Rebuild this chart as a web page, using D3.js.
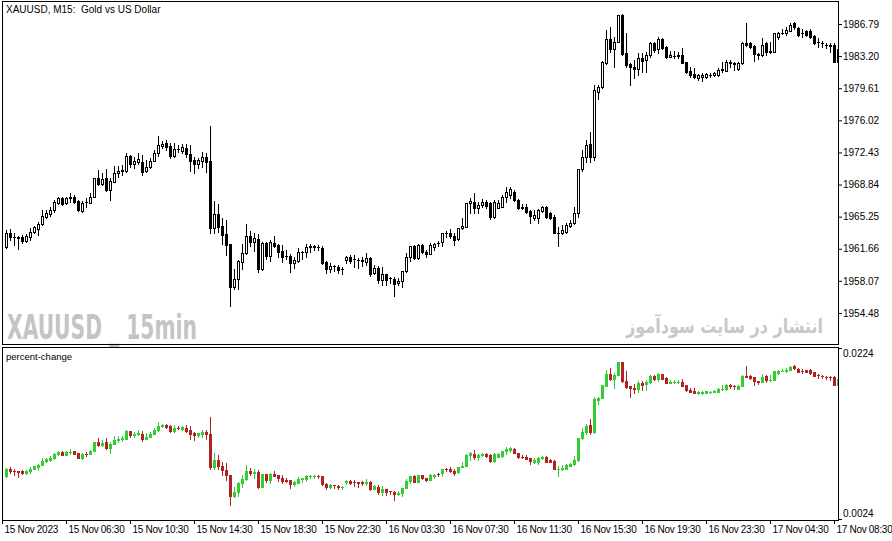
<!DOCTYPE html>
<html>
<head>
<meta charset="utf-8">
<script src="https://cdn.jsdelivr.net/npm/d3@7"></script>
<style>
  body { margin: 0; background: #fff; }
  svg text { font-family: "Liberation Sans", Arial, sans-serif; }
</style>
</head>
<body>
<svg id="chart" width="892" height="541"></svg>
<script>
// XAUUSD M15 candles, 15-17 Nov 2023 (one value per bar)
const opens = [
  1961.89,1963.46,1963.01,1962.92,1962.98,1962.56,1962.98,1963.57,1963.90,1964.43,
  1965.24,1965.54,1965.99,1966.81,1967.30,1966.74,1967.37,1967.48,1967.00,1965.91,
  1966.92,1966.81,1967.48,1969.54,1968.90,1969.54,1968.23,1969.16,1970.09,1970.39,
  1970.39,1972.03,1971.13,1971.36,1971.39,1970.39,1970.77,1971.50,1972.33,1973.15,
  1973.45,1973.18,1972.03,1972.78,1972.62,1972.89,1972.25,1971.58,1971.10,1971.50,
  1971.92,1971.47,1963.95,1965.54,1964.20,1963.31,1962.19,1957.35,1958.24,1960.21,
  1961.15,1963.09,1962.45,1962.75,1959.40,1962.27,1960.88,1962.27,1962.08,1961.41,
  1960.85,1960.85,1960.10,1960.29,1961.26,1961.26,1961.89,1961.89,1961.89,1961.78,
  1960.14,1959.36,1959.73,1959.65,1959.36,1960.40,1960.77,1960.48,1960.40,1960.40,
  1960.21,1960.59,1958.91,1959.47,1958.17,1958.84,1958.36,1958.24,1957.80,1958.05,
  1959.17,1960.70,1961.97,1960.59,1962.08,1961.33,1961.07,1961.82,1962.27,1962.45,
  1963.46,1963.46,1963.09,1962.72,1963.95,1964.13,1966.74,1966.85,1966.18,1966.55,
  1966.92,1966.74,1965.24,1966.25,1966.36,1967.48,1967.70,1968.04,1967.11,1966.29,
  1966.29,1965.91,1965.06,1965.06,1965.91,1966.29,1965.62,1965.24,1963.42,1963.39,
  1963.57,1964.20,1964.50,1965.62,1970.54,1971.95,1973.37,1971.88,1979.22,1979.71,
  1982.46,1985.08,1983.96,1984.81,1987.79,1983.51,1982.31,1981.95,1981.72,1982.95,
  1982.76,1983.32,1984.70,1983.96,1985.08,1984.22,1983.06,1983.24,1983.24,1983.32,
  1982.57,1981.53,1981.20,1980.72,1980.83,1980.83,1981.09,1981.09,1981.09,1981.64,
  1981.57,1982.57,1982.39,1981.72,1982.39,1984.70,1984.63,1984.33,1983.40,1983.32,
  1984.70,1983.69,1983.69,1985.30,1985.75,1985.75,1986.04,1986.87,1986.31,1985.75,
  1986.04,1986.04,1985.45,1984.81,1984.63,1984.47,1984.44,1984.44,1982.57
];
const highs = [
  1963.76,1963.87,1963.39,1963.09,1963.20,1963.31,1963.98,1964.20,1964.65,1965.99,
  1965.99,1966.33,1967.11,1967.45,1967.45,1967.45,1967.93,1967.67,1967.11,1967.00,
  1967.33,1967.89,1969.57,1970.46,1970.09,1970.54,1969.57,1970.91,1970.91,1971.02,
  1972.36,1972.14,1971.92,1972.36,1972.14,1971.58,1971.81,1972.70,1974.27,1973.71,
  1973.82,1973.48,1973.48,1973.26,1973.34,1973.37,1973.26,1971.95,1971.77,1972.44,
  1972.40,1975.38,1967.03,1966.66,1965.06,1964.87,1962.19,1959.40,1960.40,1962.19,
  1964.43,1963.64,1963.39,1963.31,1962.42,1962.42,1962.64,1963.09,1962.19,1962.05,
  1961.52,1961.07,1960.77,1961.71,1961.44,1962.16,1962.19,1962.08,1962.08,1961.97,
  1960.29,1960.03,1959.84,1959.84,1959.59,1960.85,1960.96,1960.96,1960.59,1960.70,
  1961.22,1960.74,1959.84,1959.73,1959.59,1958.84,1958.54,1958.50,1958.36,1959.17,
  1961.15,1961.97,1962.08,1962.19,1962.19,1961.52,1962.27,1962.34,1962.53,1963.46,
  1963.64,1963.83,1963.39,1963.98,1965.06,1966.77,1967.30,1967.86,1966.92,1967.22,
  1967.11,1966.89,1967.11,1967.11,1967.67,1968.53,1968.53,1968.23,1967.22,1966.66,
  1966.66,1965.99,1965.99,1966.10,1966.44,1966.44,1965.77,1965.40,1964.13,1964.32,
  1964.50,1964.87,1966.36,1970.60,1972.70,1973.82,1974.75,1979.97,1979.97,1982.65,
  1986.12,1986.48,1985.37,1987.83,1987.90,1985.75,1982.39,1982.76,1983.51,1983.51,
  1983.69,1984.81,1984.81,1985.30,1985.19,1984.33,1983.80,1983.80,1983.69,1984.07,
  1982.57,1982.01,1981.83,1981.20,1981.27,1981.31,1981.34,1981.45,1981.83,1982.57,
  1982.76,1982.76,1982.57,1982.54,1984.77,1986.87,1984.77,1984.44,1983.58,1985.19,
  1984.81,1984.81,1985.78,1985.93,1986.19,1986.42,1986.87,1987.04,1986.42,1986.19,
  1986.12,1986.19,1985.56,1985.19,1984.92,1984.70,1984.63,1984.63,1984.36
];
const lows = [
  1961.75,1962.64,1962.08,1961.63,1962.30,1962.42,1962.64,1963.42,1963.20,1964.32,
  1965.10,1965.32,1965.77,1966.66,1966.55,1966.66,1966.92,1966.77,1965.88,1965.77,
  1966.36,1966.77,1967.45,1968.79,1968.79,1968.12,1967.11,1969.12,1969.72,1969.90,
  1970.24,1970.80,1970.69,1971.13,1969.90,1970.24,1970.69,1971.47,1972.03,1972.92,
  1972.70,1971.81,1971.92,1972.48,1972.40,1971.88,1970.39,1970.16,1970.65,1970.84,
  1970.27,1963.39,1963.46,1963.57,1962.19,1960.96,1955.29,1957.13,1957.20,1959.43,
  1961.07,1962.00,1961.44,1959.09,1959.28,1960.48,1960.32,1961.89,1960.77,1960.21,
  1960.48,1959.09,1959.54,1960.21,1960.48,1960.77,1961.33,1961.52,1961.52,1959.92,
  1958.91,1959.09,1959.21,1958.91,1958.84,1960.10,1960.10,1959.65,1959.47,1959.73,
  1959.84,1958.61,1958.84,1957.86,1957.61,1957.61,1957.80,1956.38,1957.61,1957.35,
  1959.09,1960.32,1960.51,1960.51,1961.22,1960.70,1961.07,1961.52,1961.97,1961.97,
  1963.01,1962.83,1962.08,1962.64,1963.83,1964.09,1965.62,1965.69,1965.62,1966.33,
  1966.25,1964.95,1965.13,1966.22,1966.29,1966.92,1967.30,1967.00,1966.07,1966.07,
  1965.69,1964.57,1964.87,1964.57,1965.80,1965.06,1964.99,1963.39,1961.97,1963.31,
  1963.46,1964.13,1964.43,1965.24,1970.39,1971.39,1971.39,1971.58,1978.37,1979.63,
  1982.31,1983.66,1982.01,1984.77,1983.32,1982.01,1979.97,1980.72,1981.09,1981.45,
  1981.45,1983.13,1983.69,1983.58,1984.03,1982.99,1983.06,1982.95,1982.95,1982.39,
  1981.28,1980.89,1980.72,1980.53,1980.45,1980.75,1980.83,1980.97,1980.97,1981.45,
  1981.53,1982.01,1981.64,1981.64,1982.31,1984.36,1984.07,1982.68,1982.84,1983.24,
  1983.32,1983.51,1983.66,1985.08,1985.67,1985.56,1986.00,1986.26,1985.45,1985.37,
  1985.45,1985.19,1984.55,1984.25,1984.25,1984.07,1983.69,1982.57,1982.54
];
const closes = [
  1963.39,1963.01,1962.92,1962.81,1962.56,1963.09,1963.53,1964.06,1964.43,1965.32,
  1965.69,1965.99,1966.92,1967.30,1966.66,1967.37,1967.41,1966.92,1965.99,1966.81,
  1966.90,1967.48,1969.54,1968.90,1969.42,1968.23,1969.27,1970.16,1970.39,1970.41,
  1972.03,1971.13,1971.50,1971.66,1970.27,1970.84,1971.50,1972.33,1973.26,1973.37,
  1973.00,1972.06,1972.81,1972.76,1973.06,1972.22,1971.50,1971.10,1971.58,1971.88,
  1971.39,1964.01,1965.54,1964.13,1963.20,1962.08,1957.42,1958.28,1960.29,1961.15,
  1963.09,1962.45,1962.89,1959.40,1962.27,1960.88,1962.38,1961.97,1961.33,1960.77,
  1960.83,1960.10,1960.40,1961.26,1961.30,1961.89,1961.93,1961.93,1961.82,1960.10,
  1959.36,1959.73,1959.71,1959.28,1959.40,1960.77,1960.32,1960.46,1960.38,1960.32,
  1960.59,1958.80,1959.54,1958.17,1958.84,1958.17,1958.34,1957.68,1958.09,1959.17,
  1960.70,1961.97,1960.59,1962.08,1961.33,1961.07,1962.08,1962.19,1962.25,1963.39,
  1963.44,1963.09,1962.64,1963.95,1964.20,1966.74,1967.03,1966.18,1966.55,1966.92,
  1966.44,1965.24,1966.92,1966.81,1967.48,1968.04,1968.30,1967.11,1966.18,1966.27,
  1965.80,1965.32,1965.43,1965.99,1966.29,1965.17,1965.06,1963.39,1963.46,1963.76,
  1964.32,1964.57,1965.62,1970.58,1971.95,1973.26,1971.88,1979.41,1979.71,1982.57,
  1985.08,1983.96,1984.81,1987.79,1983.43,1982.20,1981.95,1981.72,1982.95,1982.68,
  1983.32,1984.70,1983.88,1985.08,1984.07,1983.06,1983.32,1983.26,1983.28,1982.46,
  1981.45,1981.09,1980.83,1981.05,1981.09,1981.20,1981.11,1981.34,1981.64,1981.72,
  1982.57,1982.39,1982.31,1982.46,1984.70,1984.44,1984.25,1983.43,1983.32,1984.44,
  1983.69,1983.73,1985.75,1985.75,1985.81,1986.12,1986.67,1986.42,1985.56,1985.73,
  1985.56,1985.30,1984.63,1984.79,1984.61,1984.44,1984.33,1982.57,1983.96
];

// price scale labels and time labels (bar index of each time label)
const priceTicks = [1986.79, 1983.20, 1979.61, 1976.02, 1972.43, 1968.84, 1965.25, 1961.66, 1958.07, 1954.48];
const pctTicks = [0.0224, 0.0024];
const timeTickIndex = [-1, 15, 31, 47, 63, 79, 95, 111, 127, 143, 159, 175, 191, 207];
const timeTickLabels = ['15 Nov 2023', '15 Nov 06:30', '15 Nov 10:30', '15 Nov 14:30', '15 Nov 18:30',
  '15 Nov 22:30', '16 Nov 03:30', '16 Nov 07:30', '16 Nov 11:30', '16 Nov 15:30',
  '16 Nov 19:30', '16 Nov 23:30', '17 Nov 04:30', '17 Nov 08:30'];

// percent-change indicator: price relative to the reference close
const basePrice = 1947.4;

const bars = opens.map((o, i) => ({ i, o, h: highs[i], l: lows[i], c: closes[i] }));
const pctBars = bars.map(b => ({
  i: b.i, o: b.o / basePrice - 1, h: b.h / basePrice - 1, l: b.l / basePrice - 1, c: b.c / basePrice - 1
}));

const svg = d3.select('#chart');
const L = 2, R = 838;
const mainP = { top: 1, bottom: 344 };
const subP = { top: 347, bottom: 520 };

const x = d3.scaleLinear().domain([-1, 208]).range([L, R]);
const yMain = d3.scaleLinear().domain([1951.01, 1989.25]).range([mainP.bottom, mainP.top + 1]);
const ySub = d3.scaleLinear().domain([0.0024, 0.0224]).range([subP.bottom - 1, subP.top + 1]);

svg.append('rect').attr('width', 892).attr('height', 541).attr('fill', '#fff');

const defs = svg.append('defs');
defs.append('clipPath').attr('id', 'clipMain').append('rect')
  .attr('x', L + 1).attr('y', mainP.top + 1).attr('width', R - L - 1).attr('height', mainP.bottom - mainP.top - 1);
defs.append('clipPath').attr('id', 'clipSub').append('rect')
  .attr('x', L + 1).attr('y', subP.top + 1).attr('width', R - L - 1).attr('height', subP.bottom - subP.top - 1);

// watermarks (drawn under the candles)
svg.append('text').attr('x', 7).attr('y', 339)
  .attr('textLength', 190).attr('lengthAdjust', 'spacingAndGlyphs')
  .style('font-family', '"DejaVu Sans Condensed","DejaVu Sans",sans-serif')
  .style('font-weight', 'bold').style('font-size', '33px').attr('fill', '#c4c4c4')
  .text('XAUUSD _ 15min');
svg.append('text').attr('transform', 'translate(823,333) scale(0.8,1)')
  .attr('text-anchor', 'end')
  .style('font-family', '"DejaVu Sans",sans-serif')
  .style('font-weight', 'bold').style('font-size', '20px').attr('fill', '#c8c8c8')
  .text('انتشار در سایت سودآموز');

function drawCandles(g, data, y, upFill, upStroke, downColor, hollow) {
  const grp = g.selectAll('g.bar').data(data).enter().append('g').attr('class', 'bar');
  const colorOf = d => d.c >= d.o ? upStroke : downColor;
  grp.append('rect')
    .attr('x', d => Math.round(x(d.i)))
    .attr('y', d => Math.round(y(d.h)))
    .attr('width', 1)
    .attr('height', d => Math.round(y(d.l)) - Math.round(y(d.h)) + 1)
    .attr('fill', colorOf);
  grp.append('rect')
    .attr('x', d => Math.round(x(d.i)) - 1)
    .attr('y', d => Math.round(y(Math.max(d.o, d.c))))
    .attr('width', 3)
    .attr('height', d => Math.round(y(Math.min(d.o, d.c))) - Math.round(y(Math.max(d.o, d.c))) + 1)
    .attr('fill', colorOf);
  if (hollow) {
    grp.filter(d => d.c > d.o && Math.round(y(d.o)) - Math.round(y(d.c)) >= 2)
      .append('rect')
      .attr('x', d => Math.round(x(d.i)))
      .attr('y', d => Math.round(y(d.c)) + 1)
      .attr('width', 1)
      .attr('height', d => Math.round(y(d.o)) - Math.round(y(d.c)) - 1)
      .attr('fill', upFill);
  }
}

const gMain = svg.append('g').attr('clip-path', 'url(#clipMain)').attr('shape-rendering', 'crispEdges');
drawCandles(gMain, bars, yMain, '#fff', '#000', '#000', true);

const gSub = svg.append('g').attr('clip-path', 'url(#clipSub)').attr('shape-rendering', 'crispEdges');
drawCandles(gSub, pctBars, ySub, '#32cd32', '#32cd32', '#b22222', false);

// panel frames
svg.append('rect').attr('x', L + 0.5).attr('y', mainP.top + 0.5)
  .attr('width', R - L).attr('height', mainP.bottom - mainP.top)
  .attr('fill', 'none').attr('stroke', '#000');
svg.append('rect').attr('x', L + 0.5).attr('y', subP.top + 0.5)
  .attr('width', R - L).attr('height', subP.bottom - subP.top)
  .attr('fill', 'none').attr('stroke', '#000');

// price axis
const ax = svg.append('g').attr('transform', `translate(${R},0)`)
  .call(d3.axisRight(yMain).tickValues(priceTicks).tickFormat(d3.format('.2f')).tickSize(4).tickPadding(1));
ax.select('.domain').remove();
ax.selectAll('text').style('font-size', '10px').style('font-family', '"Liberation Sans",Arial,sans-serif');

// indicator axis
const ax2 = svg.append('g').attr('transform', `translate(${R},0)`)
  .call(d3.axisRight(ySub).tickValues(pctTicks).tickFormat(d3.format('.4f')).tickSize(4).tickPadding(1));
ax2.select('.domain').remove();
ax2.selectAll('text').style('font-size', '10px').style('font-family', '"Liberation Sans",Arial,sans-serif')
  .attr('dy', d => d > 0.01 ? '0.85em' : '-0.25em');

// time axis
const axb = svg.append('g').attr('transform', `translate(0,${subP.bottom})`)
  .call(d3.axisBottom(x).tickValues(timeTickIndex).tickFormat((d, i) => timeTickLabels[i]).tickSize(4).tickSizeOuter(0));
axb.select('.domain').remove();
axb.selectAll('text').attr('text-anchor', 'start').attr('dx', '2px').attr('y', 6)
  .style('font-size', '10px').style('letter-spacing', '-0.3px')
  .style('font-family', '"Liberation Sans",Arial,sans-serif');

// titles
svg.append('text').attr('x', 6).attr('y', 13).style('font-size', '10px').style('white-space', 'pre')
  .text('XAUUSD, M15:  Gold vs US Dollar');
svg.append('text').attr('x', 6).attr('y', 360).style('font-size', '9.5px')
  .text('percent-change');
</script>
</body>
</html>
